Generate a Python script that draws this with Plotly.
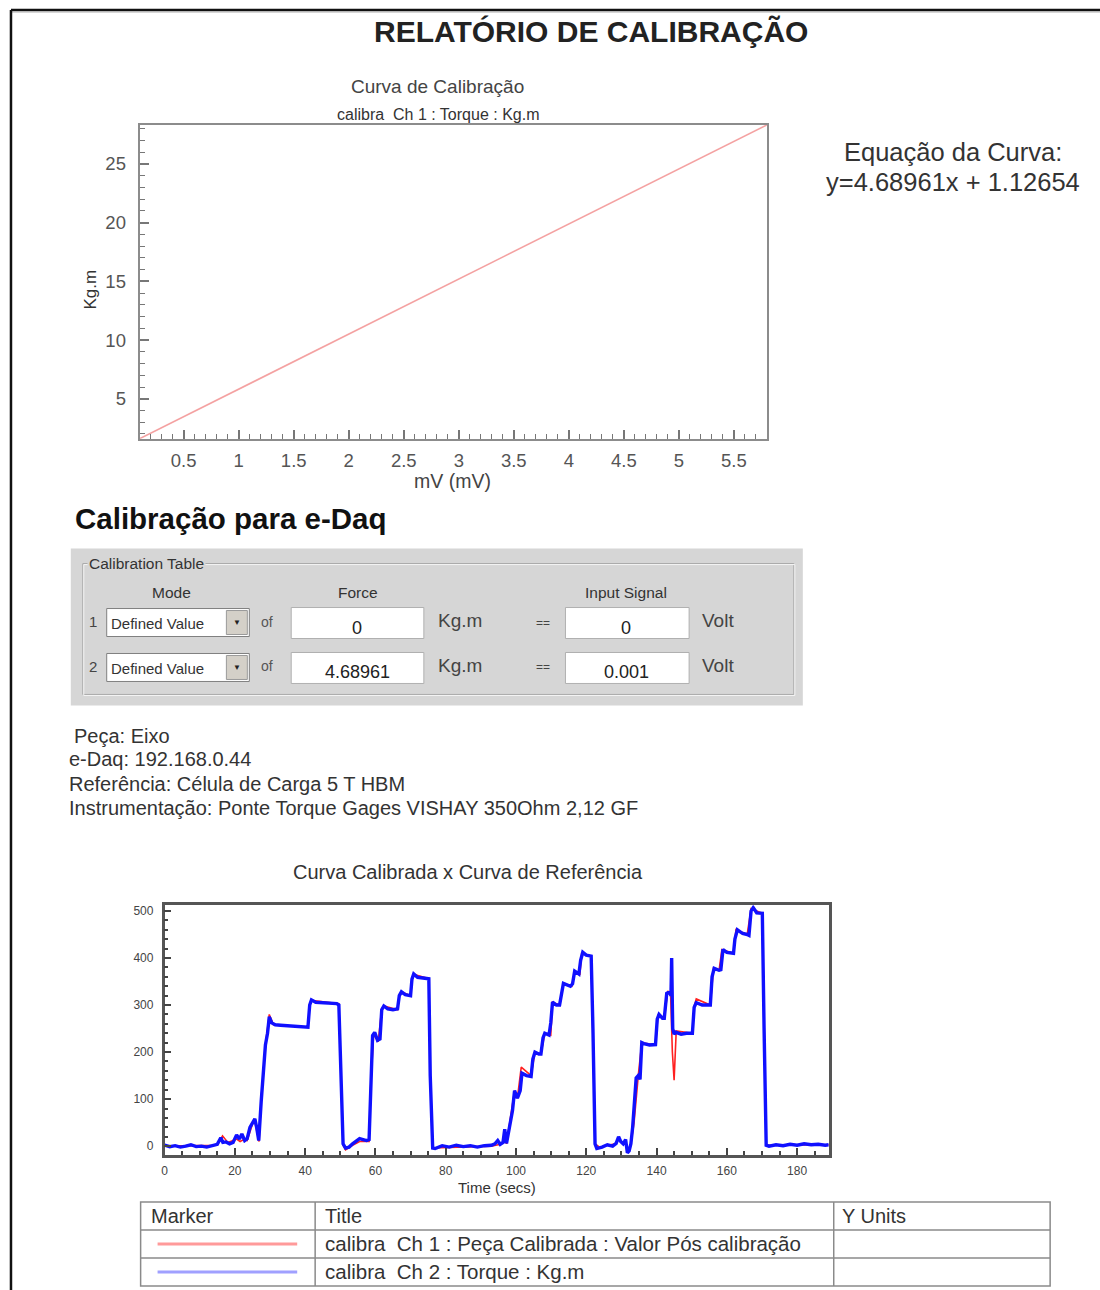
import plotly.graph_objects as go

W, H = 1100, 1290
FONT = "Liberation Sans, Arial, sans-serif"
NARROW = "Liberation Sans Narrow, Liberation Sans, Arial, sans-serif"

# ---------------- data ----------------
# Top chart: calibration curve y = a*x + b
eq_slope = 4.68961
eq_intercept = 1.12654
curve_mv = [0.1, 5.8]
curve_kgm = [0.1 * 4.68961 + 1.12654, 5.8 * 4.68961 + 1.12654]

top_xticks = [0.5, 1, 1.5, 2, 2.5, 3, 3.5, 4, 4.5, 5, 5.5]
top_xticklabels = ["0.5", "1", "1.5", "2", "2.5", "3", "3.5", "4", "4.5", "5", "5.5"]
top_yticks = [5, 10, 15, 20, 25]

# Bottom chart: Ch 2 (Torque, blue)
ch2_t = [0, 1.5, 3, 4.5, 6, 7.5, 9, 10.5, 12, 13.5, 15,
         16, 16.6, 17.5, 18.5, 19.5, 20.5, 21.3, 22, 22.8, 23.5, 24.3, 25, 25.7, 26.2, 26.8,
         27.5, 28.0, 28.7, 29.3, 29.8, 30.5, 31.5, 33, 35, 37, 39, 40.8,
         41.3, 41.8, 43, 45, 47, 49, 49.6,
         50.2, 50.8, 51.5, 52.5, 53.5, 54.5, 55.5, 56.5, 57.5, 58.2,
         58.6, 59.2, 59.8, 60.6, 61.3, 61.8, 62.4, 63.5, 65, 66.3, 66.8, 67.4, 68.5, 70, 70.4, 70.9, 72, 73.5, 75.2,
         75.6, 76.3, 77, 79, 81, 83, 85, 87, 89, 91, 93,
         94, 94.8, 95.5, 96.3, 96.8, 97.3, 97.9, 98.5, 99, 99.6,
         100.4, 101.2, 101.7, 103, 104.3, 104.8, 105.4, 106.5, 107.1, 107.7,
         108.2, 109.4, 109.9, 110.4, 111.5, 112.4, 112.9, 113.5, 115.5, 116.1,
         116.7, 117.9, 118.4, 119, 120, 121.4,
         121.9, 122.5, 123, 124.5, 126, 127.5, 128.5, 129.2, 129.8, 130.5, 131.2, 131.7, 132.2, 132.7,
         133.2, 133.6, 134.2, 134.8, 135.3, 135.8, 136.4, 138, 139.7, 140.2,
         140.7, 141.7, 142.2, 142.9, 143.7, 144.1, 144.3, 144.6, 145, 145.5,
         147, 148.5, 150.2, 150.7, 151.3, 153, 155.3, 155.8, 156.4, 157.8,
         158.3, 158.9, 160, 161.9, 162.3, 163, 164.5, 165.8, 166.3, 166.9,
         167.5, 168.5, 170.1,
         170.6, 171.2, 172, 174, 176, 178, 180, 182, 184, 186, 188, 189]
ch2_v = [2, -1, 1, -2, 0, 3, -1, 0, -2, 1, 4,
         18, 8, 9, 5, 8, 24, 15, 26, 12, 16, 40, 48, 58, 40, 12,
         95, 150, 215, 240, 275, 262, 258, 257, 256, 255, 254, 253,
         300, 311, 306, 305, 304, 303, 300,
         150, 5, -4, -2, 5, 10, 16, 14, 12, 14,
         120, 235, 242, 225, 228, 290, 298, 292, 290, 292, 320, 328, 322, 320, 355, 366, 359, 358, 356,
         150, -4, -5, 1, -2, 2, -1, 1, -2, 1, 2,
         5, 12, 4, 8, 36, 6, 30, 60, 75, 118,
         102, 118, 155, 150, 148, 185, 200, 196, 196, 230,
         240, 236, 262, 306, 300, 300, 325, 346, 340, 345,
         372, 366, 395, 412, 406, 404,
         250, 5, -5, -2, 3, 0, 6, 20, 10, 5, 14, -14, -10, 5,
         40, 90, 145, 150, 142, 220, 218, 215, 216, 270,
         280, 272, 272, 325, 328, 320, 400, 250, 238, 242,
         238, 240, 240, 295, 305, 300, 300, 360, 378, 374,
         375, 418, 412, 410, 440, 460, 452, 450, 448, 500,
         507, 496, 495,
         250, 2, 0, 3, 1, 4, 2, 5, 3, 4, 2, 3]

# Bottom chart: Ch 1 (Peça calibrada, red)
ch1_t = [0, 15, 16.5, 18, 20.5, 21.5, 22.5, 23.5, 25.5, 26.9, 27.5, 28.7, 29.8, 31, 40.8,
         41.3, 41.8, 49.6, 50.2, 50.8, 51.5, 53.5, 55.5, 58.2, 58.6, 59.5, 60.8, 61.8, 62.4,
         66.3, 66.9, 67.4, 70, 70.5, 71, 75.2, 75.6, 76.3, 93, 95.5, 96.3, 96.8, 97.3, 98.5, 99.6, 100.4,
         101.5, 104.3, 105.4, 107.1, 108.2, 109.9, 110.4, 112.4, 113.5, 115.9, 116.7, 118.2,
         118.7, 121.4, 122.5, 124, 126, 128.5, 129.2, 129.8, 130.5, 131.2, 131.7, 132.7, 133.6,
         134.8, 135.8, 139.7, 140.4,
         142.2, 143.2, 144.0, 144.5, 145.0, 145.6, 150.2, 150.8, 151.3, 155.3, 156.2, 157.8,
         158.6, 161.9, 162.6, 165.8, 166.9, 170.1, 171.2, 189]
ch1_v = [0, 2, 22, 8, 15, 10, 14, 12, 58, 10, 100, 215, 280, 258, 253,
         300, 310, 303, 150, 2, -8, 2, 10, 10, 120, 238, 222, 292, 298,
         290, 322, 328, 320, 355, 365, 356, 150, -4, 0, 4, 8, 30, 5, 60, 118, 102,
         168, 150, 200, 196, 240, 236, 306, 300, 346, 340, 372, 366,
         410, 404, 5, -3, 2, 5, 18, 9, 5, 12, -12, 5, 50,
         150, 220, 215, 278,
         272, 330, 322, 200, 140, 245, 240, 300, 313, 300, 378, 374,
         418, 410, 460, 450, 505, 495, 2, 3]

assert len(ch2_t) == len(ch2_v), (len(ch2_t), len(ch2_v))
assert len(ch1_t) == len(ch1_v), (len(ch1_t), len(ch1_v))

bot_xticks = [0, 20, 40, 60, 80, 100, 120, 140, 160, 180]
bot_yticks = [0, 100, 200, 300, 400, 500]

info_lines = ["Peça: Eixo", "e-Daq: 192.168.0.44",
              "Referência: Célula de Carga 5 T HBM",
              "Instrumentação: Ponte Torque Gages VISHAY 350Ohm 2,12 GF"]
force_values = ["0", "4.68961"]
signal_values = ["0", "0.001"]
legend_titles = ["calibra  Ch 1 : Peça Calibrada : Valor Pós calibração",
                 "calibra  Ch 2 : Torque : Kg.m"]

# ---------------- helpers ----------------
def fx(x):
    return x / W

def fy(y):
    return 1 - y / H

shapes = []
annotations = []
PAD = 4  # left-anchored annotation inner offset

def rect(x0, y0, x1, y1, fill=None, line=None, lw=1):
    shapes.append(dict(type="rect", xref="paper", yref="paper",
                       x0=fx(x0), x1=fx(x1), y0=fy(y1), y1=fy(y0),
                       fillcolor=fill if fill else "rgba(0,0,0,0)",
                       line=dict(color=line if line else "rgba(0,0,0,0)", width=lw if line else 0),
                       layer="below"))

def hline(x0, x1, y, color, lw=1, layer="above"):
    shapes.append(dict(type="line", xref="paper", yref="paper",
                       x0=fx(x0), x1=fx(x1), y0=fy(y), y1=fy(y),
                       line=dict(color=color, width=lw), layer=layer))

def vline(x, y0, y1, color, lw=1, layer="above"):
    shapes.append(dict(type="line", xref="paper", yref="paper",
                       x0=fx(x), x1=fx(x), y0=fy(y0), y1=fy(y1),
                       line=dict(color=color, width=lw), layer=layer))

def text(x, y, s, size, color="#333", anchor="left", bold=False, family=FONT, angle=0, bg=None):
    if bold:
        s = "<b>" + s + "</b>"
    if anchor == "left":
        x = x - PAD
    d = dict(xref="paper", yref="paper", x=fx(x), y=fy(y), text=s,
             showarrow=False, xanchor=anchor, yanchor="middle", textangle=angle,
             font=dict(family=family, size=size, color=color))
    if bg:
        d["bgcolor"] = bg
        d["borderpad"] = 1
    annotations.append(d)

# ---------------- page frame ----------------
hline(8, 1100, 9, "#111", 2.5)
hline(8, 1100, 11, "#aaa", 1)
vline(8, 9, 1290, "#111", 2.5)

# ---------------- texts ----------------
text(590, 31, "RELATÓRIO DE CALIBRAÇÃO", 30, "#222", "center", bold=True)
text(436, 86, "Curva de Calibração", 19, "#444", "center")
text(436, 114, "calibra  Ch 1 : Torque : Kg.m", 16, "#333", "center")
text(88, 289, "Kg.m", 17, "#333", "center", angle=-90)
text(451, 480, "mV (mV)", 19.5, "#444", "center")
text(953, 151, "Equação da Curva:", 25.5, "#333", "center")
text(953, 181, "y=4.68961x + 1.12654", 25.5, "#333", "center")
text(74, 518, "Calibração para e-Daq", 29.5, "#111", "left", bold=True)

# ---------------- calibration table ----------------
PANEL = "#d6d6d6"
rect(68, 548, 802, 705, fill=PANEL)
rect(80, 563, 793, 694, line="#a8a8a8", lw=1)
shapes.append(dict(type="rect", xref="paper", yref="paper", x0=fx(81), x1=fx(794), y0=fy(695), y1=fy(564),
                   line=dict(color="#f4f4f4", width=1), layer="below"))
text(88, 563, "Calibration Table", 15.5, "#333", "left", family=NARROW, bg=PANEL)
text(169, 592, "Mode", 15.5, "#333", "center", family=NARROW)
text(356, 592, "Force", 15.5, "#333", "center", family=NARROW)
text(625, 592, "Input Signal", 15.5, "#333", "center", family=NARROW)

rows_y = [622, 667]
for i, ry in enumerate(rows_y):
    text(90, ry - 1, str(i + 1), 15, "#444", "center", family=NARROW)
    # dropdown
    rect(104, ry - 14, 247, ry + 14, fill="white", line="#808080", lw=1)
    rect(224, ry - 12, 245, ry + 12, fill="#d4d0c8", line="#9a9a9a", lw=1)
    text(110, ry + 1, "Defined Value", 15, "#333", "left", family=NARROW)
    text(235, ry, "▼", 8, "#222", "center")
    text(265, ry - 1, "of", 14, "#555", "center", family=NARROW)
    # force box
    rect(289, ry - 15, 422, ry + 16, fill="white", line="#b0b0b0", lw=1)
    text(355, ry + 5, force_values[i], 18, "#222", "center")
    text(438, ry - 2, "Kg.m", 19, "#444", "left", family=NARROW)
    text(541, ry, "==", 12, "#444", "center", family=NARROW)
    # signal box
    rect(564, ry - 15, 688, ry + 16, fill="white", line="#b0b0b0", lw=1)
    text(625, ry + 5, signal_values[i], 18, "#222", "center")
    text(703, ry - 2, "Volt", 19, "#444", "left", family=NARROW)

# ---------------- info lines ----------------
info_pos = [(73, 736), (68, 759), (68, 784), (68, 808)]
for (ix, iy), s in zip(info_pos, info_lines):
    text(ix, iy, s, 20, "#333", "left", family=NARROW)

text(466, 872, "Curva Calibrada x Curva de Referência", 20, "#333", "center", family=NARROW)
text(495, 1187, "Time (secs)", 15, "#333", "center", family=NARROW)

# ---------------- legend table ----------------
rect(138, 1202, 1050, 1286, fill="white", line="#8a8a8a", lw=1.5)
hline(138, 1050, 1230, "#8a8a8a", 1.5)
hline(138, 1050, 1258, "#8a8a8a", 1.5)
vline(313, 1202, 1286, "#8a8a8a", 1.5)
vline(833, 1202, 1286, "#8a8a8a", 1.5)
text(150, 1216, "Marker", 20, "#333", "left", family=NARROW)
text(325, 1216, "Title", 20, "#333", "left", family=NARROW)
text(843, 1216, "Y Units", 20, "#333", "left", family=NARROW)
text(325, 1243, legend_titles[0], 20.5, "#333", "left", family=NARROW)
text(325, 1271, legend_titles[1], 20.5, "#333", "left", family=NARROW)
hline(155, 295, 1244, "#ff9a9a", 3)
hline(155, 295, 1272, "#a0a0ff", 3)

# ---------------- figure ----------------
fig = go.Figure()
fig.add_trace(go.Scatter(x=curve_mv, y=curve_kgm, mode="lines",
                         line=dict(color="#f4a2a2", width=1.6), xaxis="x", yaxis="y",
                         showlegend=False, hoverinfo="skip"))
fig.add_trace(go.Scatter(x=ch1_t, y=ch1_v, mode="lines",
                         line=dict(color="#ff2020", width=1.6), xaxis="x2", yaxis="y2",
                         showlegend=False))
fig.add_trace(go.Scatter(x=ch2_t, y=ch2_v, mode="lines",
                         line=dict(color="#1010ff", width=3.4), xaxis="x2", yaxis="y2",
                         showlegend=False))

axis_common = dict(showgrid=False, zeroline=False, showline=True, mirror=True, ticks="inside")

fig.update_layout(
    width=W, height=H, margin=dict(l=0, r=0, t=0, b=0),
    paper_bgcolor="white", plot_bgcolor="white",
    font=dict(family=FONT),
    shapes=shapes, annotations=annotations,
    xaxis=dict(domain=[fx(137), fx(766)], anchor="y", range=[0.1, 5.8],
               tickvals=top_xticks, ticktext=top_xticklabels, ticklen=9, tickwidth=1.5,
               tickcolor="#777", linecolor="#8c8c8c", linewidth=2, ticklabelstandoff=4,
               minor=dict(ticks="inside", dtick=0.1, tick0=0, ticklen=5, tickcolor="#777", tickwidth=1),
               tickfont=dict(family=NARROW, size=18.5, color="#555"), **axis_common),
    yaxis=dict(domain=[fy(438), fy(124)], anchor="x", range=[1.6, 28.33],
               tickvals=top_yticks, ticklen=9, tickwidth=1.5,
               tickcolor="#777", linecolor="#8c8c8c", linewidth=2, ticklabelstandoff=8,
               minor=dict(ticks="inside", dtick=1, tick0=0, ticklen=5, tickcolor="#777", tickwidth=1),
               tickfont=dict(family=NARROW, size=18.5, color="#555"), **axis_common),
    xaxis2=dict(domain=[fx(162), fx(828)], anchor="y2", range=[0, 189],
                tickvals=bot_xticks, ticklen=7, tickwidth=1.5,
                tickcolor="#444", linecolor="#555", linewidth=2.5, ticklabelstandoff=3,
                minor=dict(ticks="inside", dtick=5, tick0=0, ticklen=4, tickcolor="#444", tickwidth=1.5),
                tickfont=dict(family=NARROW, size=12, color="#444"), **axis_common),
    yaxis2=dict(domain=[fy(1155), fy(905)], anchor="x2", range=[-19, 512],
                tickvals=bot_yticks, ticklen=7, tickwidth=1.5,
                tickcolor="#444", linecolor="#555", linewidth=2.5, ticklabelstandoff=6,
                minor=dict(ticks="inside", dtick=20, tick0=0, ticklen=4, tickcolor="#444", tickwidth=1.5),
                tickfont=dict(family=NARROW, size=12, color="#444"), **axis_common),
)

fig.write_html("out.html")
